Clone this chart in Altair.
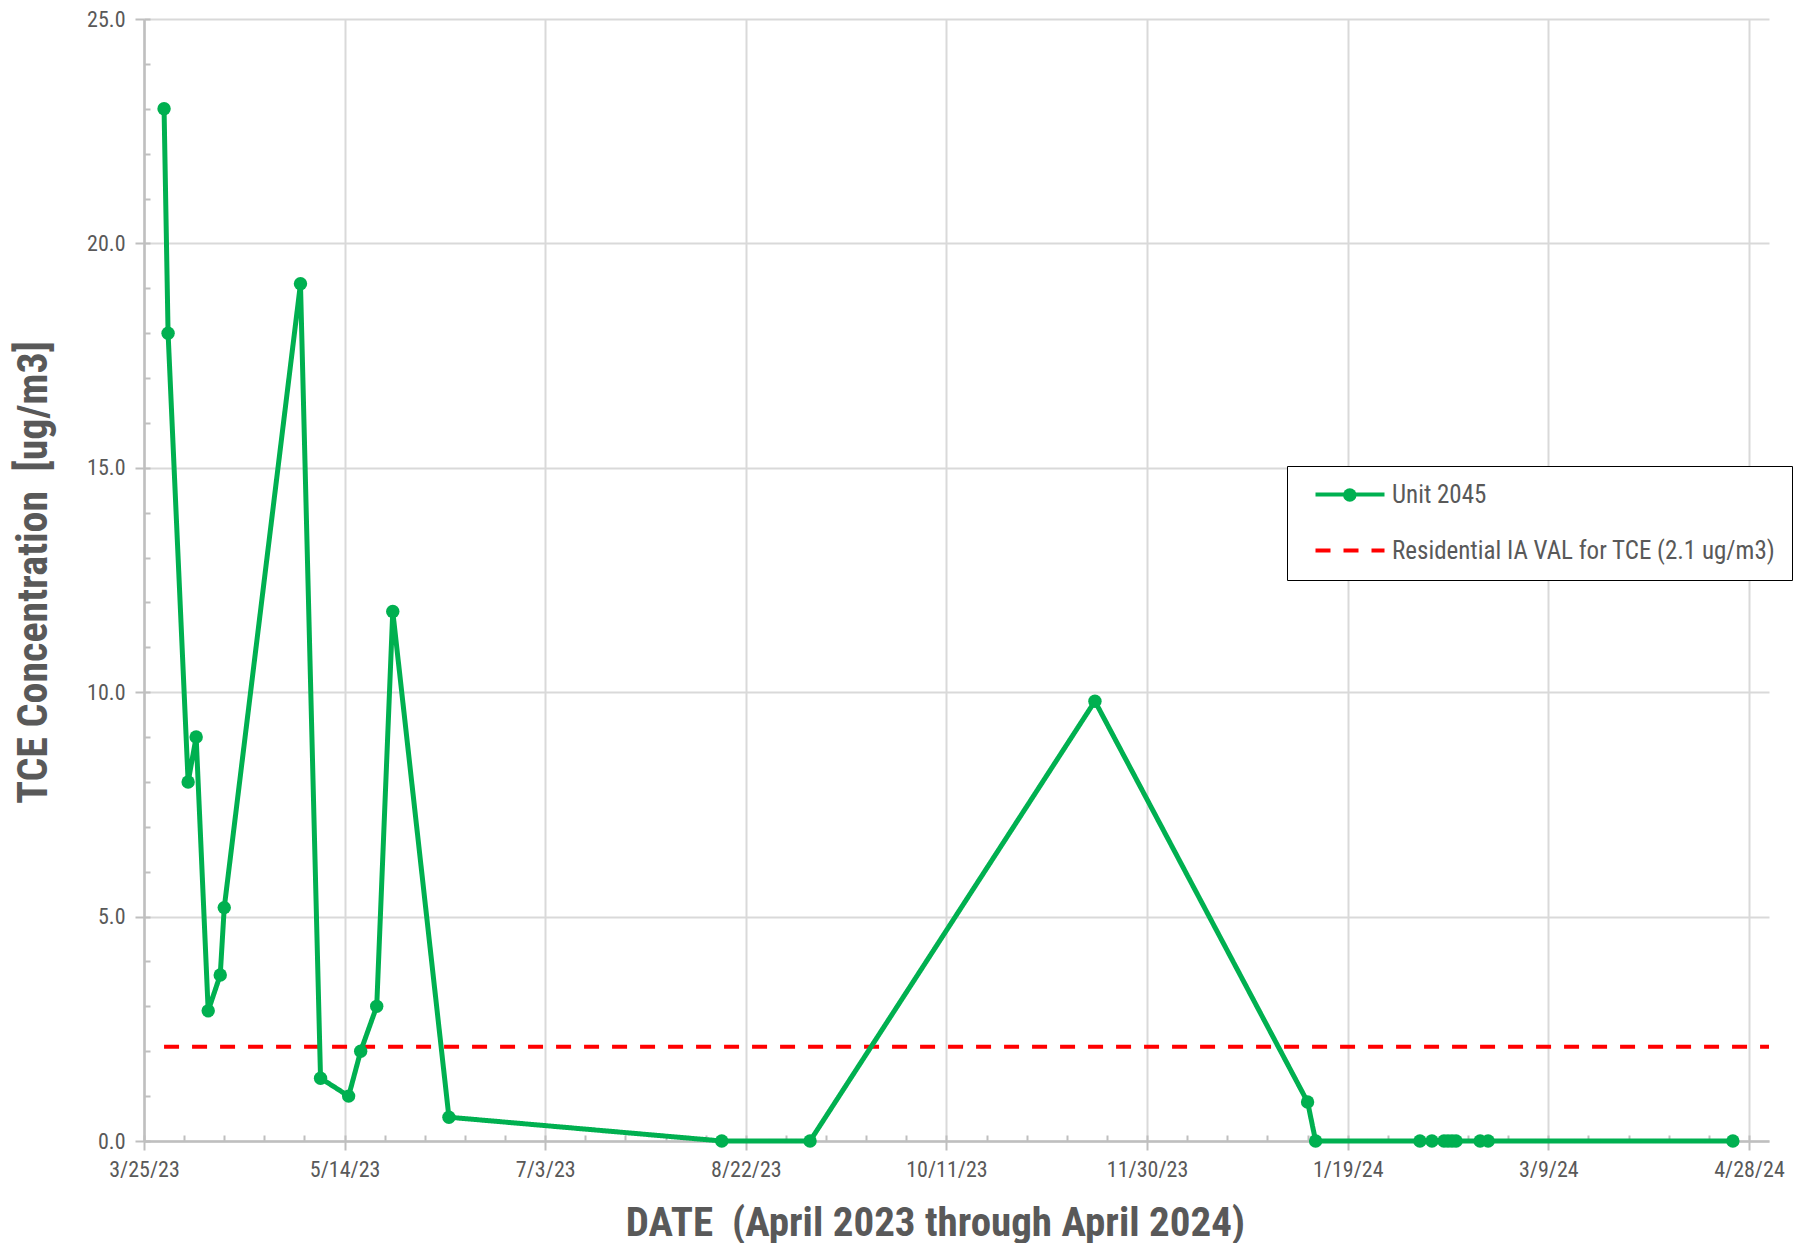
import altair as alt
import pandas as pd

# ---------------- data ----------------
S1 = "Unit 2045"
S2 = "Residential IA VAL for TCE (2.1 ug/m3)"

unit_dates = ["2023-03-30", "2023-03-31", "2023-04-05", "2023-04-07", "2023-04-10",
              "2023-04-13", "2023-04-14", "2023-05-03", "2023-05-08", "2023-05-15",
              "2023-05-18", "2023-05-22", "2023-05-26", "2023-06-09", "2023-08-16",
              "2023-09-07", "2023-11-17", "2024-01-09", "2024-01-11", "2024-02-06",
              "2024-02-09", "2024-02-12", "2024-02-13", "2024-02-14", "2024-02-15",
              "2024-02-21", "2024-02-23", "2024-04-24"]
unit_values = [23.0, 18.0, 8.0, 9.0, 2.9,
               3.7, 5.2, 19.1, 1.4, 1.0,
               2.0, 3.0, 11.8, 0.53, 0.0,
               0.0, 9.8, 0.87, 0.0, 0.0,
               0.0, 0.0, 0.0, 0.0, 0.0,
               0.0, 0.0, 0.0]

val_dates = ["2023-03-30", "2024-05-03"]
val_values = [2.1, 2.1]

x_domain = ["2023-03-25", "2024-05-03"]
x_tick_dates = ["2023-03-25", "2023-05-14", "2023-07-03", "2023-08-22", "2023-10-11",
                "2023-11-30", "2024-01-19", "2024-03-09", "2024-04-28"]
y_ticks = [0, 5, 10, 15, 20, 25]
y_minor_ticks = list(range(0, 26))

# ---------------- style ----------------
GREEN = "#00B050"
RED = "#FF0000"
TEXT = "#595959"
GRID = "#D9D9D9"
AXIS = "#BFBFBF"
FONT = "Liberation Sans Narrow, Roboto Condensed, DejaVu Sans Condensed, Liberation Sans, sans-serif"
W, H = 1625, 1122


def dt(s):
    t = pd.Timestamp(s)
    return alt.DateTime(year=t.year, month=t.month, date=t.day)


minor_x = [dt(d) for d in pd.date_range(x_domain[0], x_domain[1], freq="10D")]

df_unit = pd.DataFrame({"date": pd.to_datetime(unit_dates), "value": unit_values, "series": S1})
df_val = pd.DataFrame({"date": pd.to_datetime(val_dates), "value": val_values, "series": S2})

x_scale = alt.Scale(domain=[dt(x_domain[0]), dt(x_domain[1])])
y_scale = alt.Scale(domain=[0, 25], nice=False)

DOM = [S1, S2]
LX, LY = 1143, 447
LPAD = 16

legend_main = alt.Legend(
    title=None, orient="none", legendX=LX, legendY=LY, direction="vertical",
    fillColor="white", strokeColor="black", padding=LPAD, symbolOffset=34.5,
    rowPadding=30, labelFont=FONT, labelFontSize=25, labelColor=TEXT,
    labelOffset=29.5, symbolType="M-3.45,0H3.45", symbolSize=400, symbolStrokeWidth=4,
    labelLimit=0, symbolOpacity=1, zindex=1,
)
# marker drawn over the middle of the "Unit 2045" legend line
legend_dot = alt.Legend(
    title=None, orient="none", legendX=LX + 55.8, legendY=LY + 22,
    direction="vertical", padding=0, symbolOffset=0, labelExpr="''",
    labelFontSize=1, labelColor="transparent",
    symbolType="circle", symbolSize=180, symbolFillColor=GREEN, symbolStrokeWidth=0,
    symbolOpacity=1, zindex=2,
)

color = alt.Color("series:N", scale=alt.Scale(domain=DOM, range=[GREEN, RED]), legend=legend_main)
dash = alt.StrokeDash("series:N", scale=alt.Scale(domain=DOM, range=[[1, 0], [15, 13]]), legend=legend_main)

# major axes
x_major = alt.Axis(
    values=[dt(d) for d in x_tick_dates], format="%-m/%-d/%y",
    title="DATE \u00a0(April 2023 through April 2024)",
    grid=True, gridColor=GRID, gridWidth=2,
    domainColor=AXIS, domainWidth=2.5, tickColor=AXIS, tickWidth=2, tickSize=9,
    labelFont=FONT, labelFontSize=22, labelColor=TEXT, labelPadding=9, labelFlush=False,
    titleFont=FONT, titleFontSize=41, titleFontWeight="bold", titleColor=TEXT,
    titlePadding=23, titleX=791,
)
y_major = alt.Axis(
    values=y_ticks, format=".1f", title="TCE Concentration \u00a0[ug/m3]",
    grid=True, gridColor=GRID, gridWidth=2,
    domainColor=AXIS, domainWidth=2.5, tickColor=AXIS, tickWidth=2, tickSize=9,
    labelFont=FONT, labelFontSize=22, labelColor=TEXT, labelPadding=10,
    titleFont=FONT, titleFontSize=42, titleFontWeight="bold", titleColor=TEXT,
    titlePadding=31, titleY=553,
)
# minor ticks, pointing inside the plot
x_minor = alt.Axis(orient="top", offset=-H, values=minor_x, labels=False, domain=False,
                   grid=False, title=None, tickColor=AXIS, tickWidth=2, tickSize=6)
y_minor = alt.Axis(orient="right", offset=-W, values=y_minor_ticks, labels=False, domain=False,
                   grid=False, title=None, tickColor=AXIS, tickWidth=2, tickSize=6)

val_line = alt.Chart(df_val).mark_line(strokeWidth=3.8).encode(
    x=alt.X("date:T", scale=x_scale, axis=x_minor),
    y=alt.Y("value:Q", scale=y_scale, axis=y_minor),
    color=color, strokeDash=dash,
)
unit_line = alt.Chart(df_unit).mark_line(strokeWidth=5).encode(
    x=alt.X("date:T", scale=x_scale, axis=x_major),
    y=alt.Y("value:Q", scale=y_scale, axis=y_major),
    color=color, strokeDash=dash,
)
unit_pts = alt.Chart(df_unit).mark_point(size=180, opacity=1, filled=True, color=GREEN).encode(
    x=alt.X("date:T", scale=x_scale, axis=None),
    y=alt.Y("value:Q", scale=y_scale, axis=None),
    shape=alt.Shape("series:N", scale=alt.Scale(domain=[S1], range=["circle"]), legend=legend_dot),
)

chart = alt.layer(val_line, unit_line, unit_pts).resolve_axis(
    x="independent", y="independent"
).properties(
    width=W, height=H, background="white",
    padding={"left": 4, "top": 0, "right": 5, "bottom": 0},
).configure_view(stroke=None)

chart.save("out.html", embed_options={"renderer": "svg", "actions": False})
